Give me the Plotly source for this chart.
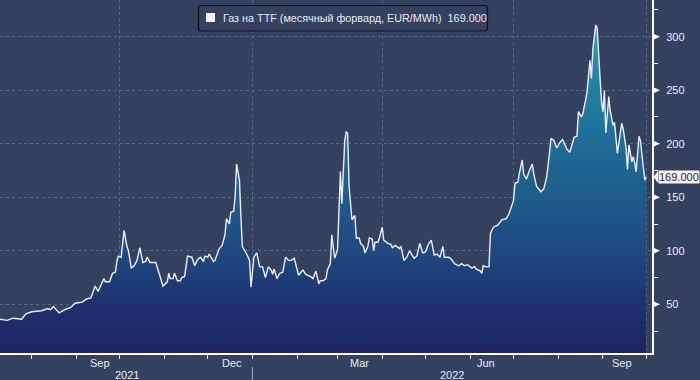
import plotly.graph_objects as go

# ---------------- data ----------------
dates = [
    "2021-07-10", "2021-07-15", "2021-07-19", "2021-07-25", "2021-07-28", "2021-08-01",
    "2021-08-08", "2021-08-12", "2021-08-14", "2021-08-16", "2021-08-20", "2021-08-24", "2021-08-28", "2021-08-31",
    "2021-09-05", "2021-09-08", "2021-09-11", "2021-09-14", "2021-09-16", "2021-09-20", "2021-09-21", "2021-09-24",
    "2021-09-26", "2021-09-28", "2021-09-29", "2021-09-30",
    "2021-10-02", "2021-10-04", "2021-10-06", "2021-10-07", "2021-10-09", "2021-10-11", "2021-10-13", "2021-10-15",
    "2021-10-17", "2021-10-19", "2021-10-20", "2021-10-22", "2021-10-26", "2021-10-27", "2021-10-31",
    "2021-11-03", "2021-11-04", "2021-11-05", "2021-11-07", "2021-11-08", "2021-11-10", "2021-11-12", "2021-11-13",
    "2021-11-15", "2021-11-17", "2021-11-20", "2021-11-22", "2021-11-24", "2021-11-26", "2021-11-28", "2021-11-29",
    "2021-12-01",
    "2021-12-02", "2021-12-05", "2021-12-06", "2021-12-09", "2021-12-11", "2021-12-13", "2021-12-14", "2021-12-16",
    "2021-12-17", "2021-12-19", "2021-12-20", "2021-12-21", "2021-12-23", "2021-12-24", "2021-12-25", "2021-12-28",
    "2021-12-30", "2021-12-31",
    "2022-01-02", "2022-01-04", "2022-01-06", "2022-01-08", "2022-01-10", "2022-01-12", "2022-01-14", "2022-01-15",
    "2022-01-16", "2022-01-18", "2022-01-20", "2022-01-22", "2022-01-24", "2022-01-26", "2022-01-28", "2022-01-30",
    "2022-02-02", "2022-02-03", "2022-02-05", "2022-02-07", "2022-02-09", "2022-02-10", "2022-02-12", "2022-02-14",
    "2022-02-16", "2022-02-17", "2022-02-19", "2022-02-21", "2022-02-22", "2022-02-24", "2022-02-25", "2022-02-27",
    "2022-03-01",
    "2022-03-02", "2022-03-03", "2022-03-04", "2022-03-06", "2022-03-07", "2022-03-08", "2022-03-09", "2022-03-11",
    "2022-03-13", "2022-03-14", "2022-03-16", "2022-03-17", "2022-03-19", "2022-03-20", "2022-03-22", "2022-03-23",
    "2022-03-25", "2022-03-26", "2022-03-27", "2022-03-29", "2022-03-30", "2022-04-01",
    "2022-04-02", "2022-04-05", "2022-04-07", "2022-04-08", "2022-04-10", "2022-04-13", "2022-04-14", "2022-04-16",
    "2022-04-18", "2022-04-20", "2022-04-23", "2022-04-25", "2022-04-27", "2022-04-29",
    "2022-05-01", "2022-05-03", "2022-05-05", "2022-05-07", "2022-05-09", "2022-05-11", "2022-05-13", "2022-05-14",
    "2022-05-17", "2022-05-19", "2022-05-21", "2022-05-24", "2022-05-26", "2022-05-28", "2022-05-30",
    "2022-06-02", "2022-06-04", "2022-06-05", "2022-06-08", "2022-06-09", "2022-06-10", "2022-06-12", "2022-06-14",
    "2022-06-15", "2022-06-17", "2022-06-20", "2022-06-23", "2022-06-25", "2022-06-26", "2022-06-28", "2022-06-30",
    "2022-07-01", "2022-07-02", "2022-07-04", "2022-07-05", "2022-07-07", "2022-07-08", "2022-07-10", "2022-07-12",
    "2022-07-14", "2022-07-15", "2022-07-17", "2022-07-19", "2022-07-20", "2022-07-22", "2022-07-24", "2022-07-26",
    "2022-07-27", "2022-07-29", "2022-07-31",
    "2022-08-02", "2022-08-04", "2022-08-05", "2022-08-07", "2022-08-09", "2022-08-10", "2022-08-12", "2022-08-14",
    "2022-08-15", "2022-08-17", "2022-08-18", "2022-08-20", "2022-08-21", "2022-08-23", "2022-08-24", "2022-08-25",
    "2022-08-27", "2022-08-28", "2022-08-29", "2022-08-30", "2022-08-31",
    "2022-09-01", "2022-09-02", "2022-09-03", "2022-09-05", "2022-09-06", "2022-09-08", "2022-09-09", "2022-09-11",
    "2022-09-13", "2022-09-14", "2022-09-15", "2022-09-17", "2022-09-18", "2022-09-19", "2022-09-21", "2022-09-22",
    "2022-09-23", "2022-09-24", "2022-09-26", "2022-09-27", "2022-09-29", "2022-09-30", "2022-10-01",
]

values = [
    36, 35, 37, 36, 41, 43,
    44, 46, 45, 48, 42, 45, 47, 51,
    52, 55, 56, 67, 62, 74, 71, 71, 79, 80, 90, 95,
    94, 119, 104, 100, 84, 86, 91, 103, 89, 90, 94, 89, 89, 85, 67,
    71, 79, 74, 74, 79, 72, 72, 75, 76, 95, 94, 86, 92, 94, 90, 95, 94,
    97, 90, 91, 102, 105, 115, 130, 125, 136, 137, 150, 181, 166, 132, 104, 97, 91, 66,
    94, 98, 85, 85, 75, 85, 82, 78, 83, 74, 79, 80, 94, 91, 91, 93,
    77, 79, 82, 78, 77, 76, 74, 81, 69, 72, 72, 74, 82, 88, 115, 93, 101,
    138, 174, 144, 203, 211, 210, 160, 129, 133, 112, 112, 107, 104, 98, 104, 112, 111, 100, 108, 108, 112, 122,
    110, 107, 106, 103, 105, 102, 104, 91, 94, 100, 93, 95, 107, 98,
    99, 106, 110, 96, 97, 94, 104, 94, 94, 92, 88, 86, 88, 86, 87,
    84, 85, 83, 81, 79, 86, 85, 85, 116, 122, 124, 129, 130, 130, 135, 144,
    147, 163, 164, 172, 185, 172, 167, 175, 181, 172, 160, 157, 155, 158, 169, 192, 205, 203, 196,
    201, 204, 201, 195, 192, 197, 206, 207, 230, 225, 228, 241, 249, 278, 261, 288, 311, 308, 278, 261, 239,
    230, 250, 210, 244, 231, 217, 220, 191, 208, 219, 214, 196, 176, 199, 183, 188, 182, 174, 207, 203, 178, 166, 169,
]
assert len(dates) == len(values)

y_ticks = [50, 100, 150, 200, 250, 300]
y_minor_ticks = [25, 75, 125, 175, 225, 275, 325]
month_label_dates = ["2021-09-17", "2021-12-18", "2022-03-16", "2022-06-12", "2022-09-14"]
month_labels = ["Sep", "Dec", "Mar", "Jun", "Sep"]
year_labels = ["2021", "2022"]
year_label_dates = ["2021-10-06", "2022-05-19"]
year_break = "2022-01-01"
series_name = "Газ на TTF (месячный форвард, EUR/MWh)"
last_value_text = "169.000"

# ---------------- styling ----------------
W, H = 700, 380
ML, MR, MT, MB = 0, 48, 0, 27
PW, PH = W - ML - MR, H - MT - MB
Y_RANGE = [4.5, 334.3]
X_RANGE = ["2021-07-10", "2022-10-05"]
BG = "#35425f"
GRID = "#566a90"
TXT = "#e8ebf2"
FONT = "Liberation Sans"
FS = 11
units_per_px = (Y_RANGE[1] - Y_RANGE[0]) / PH

fig = go.Figure()
fig.add_trace(go.Scatter(
    x=dates, y=values, mode="lines",
    line=dict(color="#eceef4", width=1.4),
    fill="tozeroy",
    fillgradient=dict(
        type="vertical", start=0, stop=320,
        colorscale=[
            [0.0, "#1f2260"],
            [0.16, "#1f3270"],
            [0.31, "#1e4a7f"],
            [0.47, "#1e5d8b"],
            [0.63, "#1f6d96"],
            [0.78, "#2280a3"],
            [1.0, "#33a0bb"],
        ],
    ),
    showlegend=False, hoverinfo="skip",
))

shapes = []
annotations = []

# right-axis triangle markers at the major ticks
dy = 2.8 * units_per_px
for v in y_ticks:
    x0 = 1 + 2 / PW
    x1 = 1 + 8 / PW
    shapes.append(dict(
        type="path", xref="paper", yref="y",
        path=f"M {x0},{v + dy} L {x1},{v} L {x0},{v - dy} Z",
        fillcolor="white", line=dict(width=0), layer="above",
    ))

# month labels and year labels
for d, t in zip(month_label_dates, month_labels):
    annotations.append(dict(x=d, xref="x", y=0, yref="paper", yanchor="top", yshift=-2,
                            text=t, showarrow=False, font=dict(family=FONT, size=FS, color=TXT)))
for d, t in zip(year_label_dates, year_labels):
    annotations.append(dict(x=d, xref="x", y=0, yref="paper", yanchor="top", yshift=-13.5,
                            text=t, showarrow=False, font=dict(family=FONT, size=FS, color=TXT)))
shapes.append(dict(type="line", xref="x", yref="paper", x0=year_break, x1=year_break,
                   y0=-14 / PH, y1=-27 / PH, line=dict(color="#aab2c4", width=1)))

# legend box (rounded)
bx0, bx1 = 198.5 / PW, 487.5 / PW
by1, by0 = 1 - 5.5 / PH, 1 - 31 / PH
rx, ry = 3 / PW, 3 / PH
shapes.append(dict(
    type="path", xref="paper", yref="paper",
    path=(f"M {bx0 + rx},{by1} L {bx1 - rx},{by1} Q {bx1},{by1} {bx1},{by1 - ry} "
          f"L {bx1},{by0 + ry} Q {bx1},{by0} {bx1 - rx},{by0} L {bx0 + rx},{by0} "
          f"Q {bx0},{by0} {bx0},{by0 + ry} L {bx0},{by1 - ry} Q {bx0},{by1} {bx0 + rx},{by1} Z"),
    fillcolor=BG, line=dict(color="#0c111c", width=1.2), layer="above",
))
shapes.append(dict(type="rect", xref="paper", yref="paper",
                   x0=206 / PW, x1=215 / PW, y0=1 - 22 / PH, y1=1 - 13 / PH,
                   fillcolor="#fff1ec", line=dict(width=0), layer="above"))
annotations.append(dict(x=220.5 / PW, xref="paper", y=1 - 18 / PH, yref="paper",
                        xanchor="left", yanchor="middle", showarrow=False,
                        text=f"{series_name}&nbsp;&nbsp;{last_value_text}",
                        font=dict(family=FONT, size=10.8, color=TXT)))

# last value tag on the right axis
last_v = values[-1]
shapes.append(dict(type="path", xref="paper", yref="y",
                   path=(f"M {1 + 1.5 / PW},{last_v} L {1 + 6 / PW},{last_v + 6 * units_per_px} "
                         f"L {1 + 6 / PW},{last_v - 6 * units_per_px} Z"),
                   fillcolor="#fdf2ee", line=dict(width=0), layer="above"))
annotations.append(dict(x=1, xref="paper", y=last_v, yref="y", xanchor="left", yanchor="middle",
                        xshift=5.5, showarrow=False, text=last_value_text, bgcolor="#fdf2ee",
                        borderpad=0, font=dict(family=FONT, size=FS, color="#1d2350")))

fig.update_layout(
    width=W, height=H,
    margin=dict(l=ML, r=MR, t=MT, b=MB),
    paper_bgcolor=BG, plot_bgcolor=BG,
    showlegend=False,
    shapes=shapes, annotations=annotations,
    xaxis=dict(
        type="date", range=X_RANGE, fixedrange=True,
        showgrid=True, gridcolor=GRID, gridwidth=1, griddash="dot",
        dtick="M3", tick0="2021-10-01",
        ticks="outside", ticklen=4, tickwidth=1, tickcolor="white",
        showticklabels=False,
        minor=dict(dtick="M1", tick0="2021-08-01", ticks="outside", ticklen=4,
                   tickwidth=1, tickcolor="white", showgrid=False),
        showline=True, linecolor="white", linewidth=2, zeroline=False,
    ),
    yaxis=dict(
        side="right", range=Y_RANGE, fixedrange=True,
        tickmode="array", tickvals=y_ticks,
        showgrid=True, gridcolor=GRID, gridwidth=1, griddash="dot",
        ticks="", ticklabelstandoff=10,
        tickfont=dict(family=FONT, size=FS, color=TXT),
        minor=dict(tickmode="array", tickvals=y_minor_ticks, ticks="outside", ticklen=4,
                   tickwidth=1, tickcolor="white", showgrid=False),
        showline=True, linecolor="white", linewidth=2, zeroline=False,
    ),
)

fig.write_html(
    "out.html",
    config={"displayModeBar": False},
    post_script="document.body.style.margin='0';document.body.style.overflow='hidden';",
)
